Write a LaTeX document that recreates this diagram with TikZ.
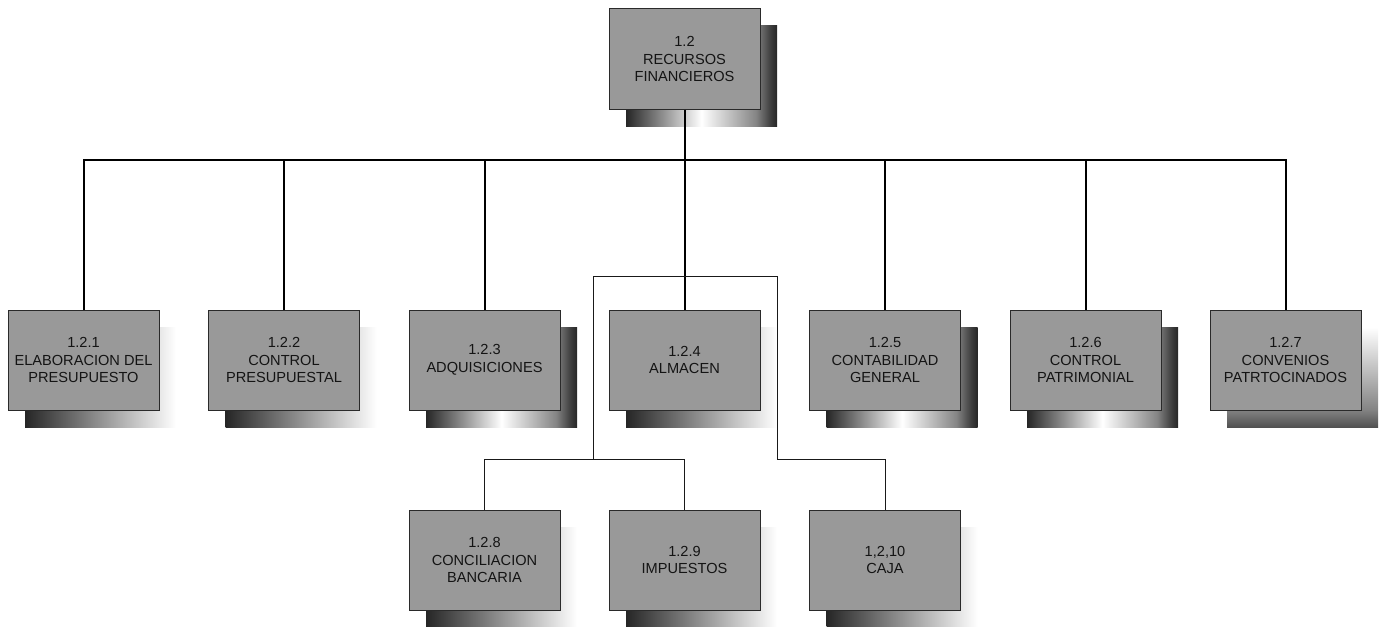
\documentclass[tikz,border=0pt]{standalone}
\usepackage{fontspec}
\setmainfont{Liberation Sans}
\definecolor{boxgray}{HTML}{999999}
\definecolor{boxedge}{HTML}{2A2A2A}
\definecolor{txt}{HTML}{141414}
\definecolor{sdark}{HTML}{262626}
\definecolor{smid}{HTML}{858585}
% shadow shadings (the path box maps onto 25bp..75bp)
\pgfdeclarehorizontalshading{fadeshadow}{100bp}{color(0bp)=(sdark); color(25bp)=(sdark); color(75bp)=(white); color(100bp)=(white)}
\pgfdeclarehorizontalshading{tubeshadow}{100bp}{color(0bp)=(sdark); color(25bp)=(sdark); color(50bp)=(white); color(68bp)=(smid); color(73bp)=(sdark!90!white); color(75bp)=(sdark); color(100bp)=(sdark)}
\pgfdeclareverticalshading{dropshadow}{100bp}{color(0bp)=(sdark!80!white); color(25bp)=(sdark!80!white); color(34bp)=(smid); color(75bp)=(white); color(100bp)=(white)}
% one unit: shadow, then the box itself
% #1 name, #2 left x, #3 top y, #4 shading, #5 text
\newcommand\orgunit[5]{%
  \shade[shading=#4] (#2+17,#3+17) rectangle ++(151,100);
  \node[unitbox] (#1) at (#2+75.5,#3+50) {#5};
}
\begin{document}
\begin{tikzpicture}[x=1pt,y=-1pt,
  unitbox/.style={draw=boxedge, line width=1pt, fill=boxgray,
    minimum width=151pt, minimum height=100pt, inner sep=0pt,
    align=center, text=txt, font=\fontsize{14.6}{17.5}\selectfont},
  bus/.style={line width=2pt, black},
  link/.style={line width=1pt, black!90}]
\useasboundingbox (0,0) rectangle (1383,626);

% boxes with shadows
\orgunit{top}{609}{9}{tubeshadow}{1.2\\RECURSOS\\FINANCIEROS}
\orgunit{b1}{8}{310}{fadeshadow}{1.2.1\\ELABORACION DEL\\PRESUPUESTO}
\orgunit{b2}{208.5}{310}{fadeshadow}{1.2.2\\CONTROL\\PRESUPUESTAL}
\orgunit{b3}{409}{310}{tubeshadow}{1.2.3\\ADQUISICIONES}
\orgunit{b4}{609}{310}{fadeshadow}{1.2.4\\ALMACEN}
\orgunit{b5}{809.5}{310}{tubeshadow}{1.2.5\\CONTABILIDAD\\GENERAL}
\orgunit{b6}{1010}{310}{tubeshadow}{1.2.6\\CONTROL\\PATRIMONIAL}
\orgunit{b7}{1210}{310}{dropshadow}{1.2.7\\CONVENIOS\\PATRTOCINADOS}
\orgunit{c8}{409}{510}{fadeshadow}{1.2.8\\CONCILIACION\\BANCARIA}
\orgunit{c9}{609}{510}{fadeshadow}{1.2.9\\IMPUESTOS}
\orgunit{c10}{809.5}{510}{fadeshadow}{1,2,10\\CAJA}

% main tree
\draw[bus] (top.south) -- ++(0,50) coordinate (hub);
\draw[bus] (b1.north) |- (hub) -| (b7.north);
\foreach \n in {b2,b3,b4,b5,b6}
  \draw[bus] (\n.north) -- (\n.north |- hub);

% thin connector loop to the lower row
\coordinate (lt) at (593,276);
\coordinate (rt) at (777,276);
\draw[link] (c8.north) -- ++(0,-50) coordinate (j8) -| (c9.north);
\draw[link] (j8 -| lt) -- (lt) -- (rt) -- (rt |- j8) -| (c10.north);
\end{tikzpicture}
\end{document}
